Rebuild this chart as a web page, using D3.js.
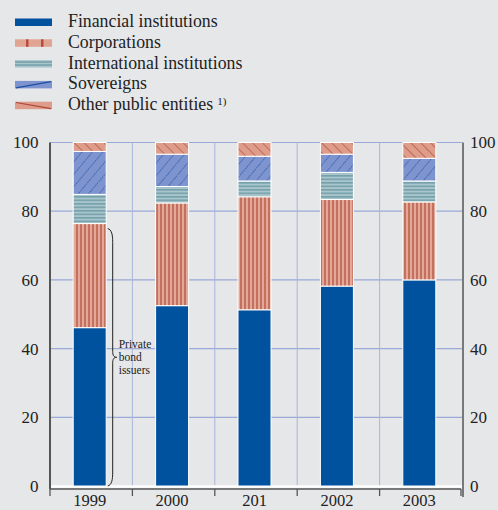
<!DOCTYPE html>
<html><head><meta charset="utf-8">
<script src="https://cdn.jsdelivr.net/npm/d3@7"></script>
<style>
html,body{margin:0;padding:0;background:#e6e7e9;}
svg{display:block;font-family:"Liberation Serif","Times New Roman",serif;}
</style></head>
<body><svg id="c" width="498" height="510"></svg>
<script>
const years = ["1999","2000","201","2002","2003"];
const seriesNames = ["Financial institutions","Corporations","International institutions","Sovereigns","Other public entities"];
const financial = [46.1, 52.5, 51.3, 58.2, 60.0];
const corporations = [30.3, 29.9, 32.9, 25.2, 22.7];
const international = [8.5, 4.8, 4.6, 7.9, 6.1];
const sovereigns = [12.5, 9.4, 7.2, 5.3, 6.6];
const otherPublic = [2.6, 3.4, 4.0, 3.4, 4.6];
const yTicks = [0, 20, 40, 60, 80, 100];

const svg = d3.select("#c");
const W = 498, H = 510;
const m = {left: 50, right: 462, top: 142.5, bottom: 486};
svg.append("rect").attr("width", W).attr("height", H).attr("fill", "#e6e7e9");

const defs = svg.append("defs");
let p = defs.append("pattern").attr("id","pCorp").attr("patternUnits","userSpaceOnUse").attr("width",4).attr("height",4);
p.append("rect").attr("width",4).attr("height",4).attr("fill","#e3a898");
p.append("rect").attr("x",0).attr("width",2).attr("height",4).attr("fill","#c4705f");
p = defs.append("pattern").attr("id","pIntl").attr("patternUnits","userSpaceOnUse").attr("width",4).attr("height",3.5);
p.append("rect").attr("width",4).attr("height",3.5).attr("fill","#a9c6cc");
p.append("rect").attr("y",0).attr("width",4).attr("height",1.6).attr("fill","#75a0aa");
p = defs.append("pattern").attr("id","pSov").attr("patternUnits","userSpaceOnUse").attr("width",8).attr("height",8).attr("patternTransform","rotate(40)");
p.append("rect").attr("width",8).attr("height",8).attr("fill","#7e94cf");
p.append("line").attr("x1",0).attr("y1",0).attr("x2",0).attr("y2",8).attr("stroke","#1d4fa2").attr("stroke-width",1.4).attr("stroke-dasharray","1.5,1");
p = defs.append("pattern").attr("id","pOther").attr("patternUnits","userSpaceOnUse").attr("width",7).attr("height",7).attr("patternTransform","rotate(-45)");
p.append("rect").attr("width",7).attr("height",7).attr("fill","#dd9d8a");
p.append("line").attr("x1",0).attr("y1",0).attr("x2",0).attr("y2",7).attr("stroke","#b04535").attr("stroke-width",1.2);

const fills = ["#00519e","url(#pCorp)","url(#pIntl)","url(#pSov)","url(#pOther)"];

const x = d3.scaleBand().domain(years).range([m.left, m.right]).paddingInner(0).paddingOuter(0);
const y = d3.scaleLinear().domain([0,100]).range([m.bottom, m.top]);
const barW = 33;

const grid = svg.append("g");
grid.selectAll("line.h").data(yTicks.filter(d=>d>0)).join("line")
  .attr("x1", m.left).attr("x2", m.right).attr("y1", d=>y(d)).attr("y2", d=>y(d))
  .attr("stroke","#9aa9d8").attr("stroke-width",1.2);
grid.selectAll("line.v").data(years.slice(1)).join("line")
  .attr("x1", d=>x(d)).attr("x2", d=>x(d)).attr("y1", m.top).attr("y2", m.bottom)
  .attr("stroke","#a9b4dc").attr("stroke-width",1);
svg.append("line").attr("x1", m.left).attr("x2", m.right).attr("y1", y(0)+0.5).attr("y2", y(0)+0.5)
  .attr("stroke","#ffffff").attr("stroke-width",2.5);

const rows = years.map((yr,i)=>({year:yr, s0:financial[i], s1:corporations[i], s2:international[i], s3:sovereigns[i], s4:otherPublic[i]}));
const stack = d3.stack().keys(["s0","s1","s2","s3","s4"])(rows);
const bars = svg.append("g");
stack.forEach((layer, k)=>{
  bars.selectAll(null).data(layer).join("rect")
    .attr("x", d=>x(d.data.year) + x.bandwidth()/2 - barW/2 - 1.5)
    .attr("width", barW)
    .attr("y", d=>y(d[1]))
    .attr("height", d=>y(d[0]) - y(d[1]))
    .attr("fill", fills[k])
    .attr("stroke","#ffffff").attr("stroke-width",1);
});

const axisColor = "#555";
svg.append("line").attr("x1", m.left).attr("x2", m.left).attr("y1", m.top).attr("y2", 489)
  .attr("stroke", axisColor).attr("stroke-width",2);
svg.append("line").attr("x1", m.right+1).attr("x2", m.right+1).attr("y1", m.top).attr("y2", 497)
  .attr("stroke", axisColor).attr("stroke-width",1.5);
svg.append("line").attr("x1", m.left).attr("x2", m.right-1).attr("y1", 489).attr("y2", 489)
  .attr("stroke", axisColor).attr("stroke-width",1.3);
const boundaries = years.map(d=>x(d)).concat([m.right-1]);
svg.selectAll("line.xt").data(boundaries).join("line")
  .attr("x1", d=>d).attr("x2", d=>d).attr("y1", 489).attr("y2", 496)
  .attr("stroke", axisColor).attr("stroke-width",1.3);

const txt = "#222";
svg.selectAll("text.xl").data(years).join("text")
  .attr("x", d=>x(d)+x.bandwidth()/2 - 1.5).attr("y", 506)
  .attr("text-anchor","middle").attr("font-size",16.5).attr("fill",txt).text(d=>d);

svg.selectAll("text.yl").data(yTicks).join("text")
  .attr("x", 38.5).attr("y", d=>y(d)).attr("dy","0.35em")
  .attr("text-anchor","end").attr("font-size",17).attr("fill",txt).text(d=>d);
svg.selectAll("text.yr").data(yTicks).join("text")
  .attr("x", 470).attr("y", d=>y(d)).attr("dy","0.35em")
  .attr("text-anchor","start").attr("font-size",17).attr("fill",txt).text(d=>d);

const braceTop = y(financial[0] + corporations[0]) + 5, braceBot = y(0);
const bx = x(years[0]) + x.bandwidth()/2 + barW/2;
const mid = (braceTop + braceBot)/2;
const bpath = `M${bx},${braceTop} C${bx+4},${braceTop+1} ${bx+5},${braceTop+6} ${bx+5},${braceTop+14}
 L${bx+5},${mid-6} C${bx+5},${mid-2} ${bx+6},${mid} ${bx+9},${mid}
 C${bx+6},${mid} ${bx+5},${mid+2} ${bx+5},${mid+6}
 L${bx+5},${braceBot-14} C${bx+5},${braceBot-6} ${bx+4},${braceBot-1} ${bx},${braceBot}`;
svg.append("path").attr("d", bpath).attr("fill","none").attr("stroke","#222").attr("stroke-width",1);
const ann = ["Private","bond","issuers"];
svg.selectAll("text.ann").data(ann).join("text")
  .attr("x", bx+11).attr("y",(d,i)=>mid - 9 + i*13)
  .attr("font-size",11.5).attr("fill",txt).text(d=>d);

const lg = svg.append("g");
const ly0 = 18.5, lstep = 20.8, lx = 15, lw = 37, lh = 7.5;
seriesNames.forEach((name,i)=>{
  const yy = ly0 + i*lstep;
  const g = lg.append("g");
  if (i===0) {
    g.append("rect").attr("x",lx).attr("y",yy).attr("width",lw).attr("height",lh).attr("fill","#00519e");
  } else if (i===1) {
    g.append("rect").attr("x",lx).attr("y",yy).attr("width",lw).attr("height",lh).attr("fill","#e0a493");
    [lx+11, lx+26].forEach(xx=>g.append("rect").attr("x",xx).attr("y",yy).attr("width",2.5).attr("height",lh).attr("fill","#b94a3e"));
  } else if (i===2) {
    g.append("rect").attr("x",lx).attr("y",yy).attr("width",lw).attr("height",lh).attr("fill","#a9c6cc");
    [1.2,4.2].forEach(o=>g.append("rect").attr("x",lx).attr("y",yy+o).attr("width",lw).attr("height",1.5).attr("fill","#75a0aa"));
  } else if (i===3) {
    g.append("rect").attr("x",lx).attr("y",yy).attr("width",lw).attr("height",lh).attr("fill","#7e94cf");
    g.append("line").attr("x1",lx+1).attr("y1",yy+lh-0.5).attr("x2",lx+lw-1).attr("y2",yy+0.8).attr("stroke","#1d4fa2").attr("stroke-width",1.2);
  } else {
    g.append("rect").attr("x",lx).attr("y",yy).attr("width",lw).attr("height",lh).attr("fill","#dd9d8a");
    g.append("line").attr("x1",lx+1).attr("y1",yy+0.8).attr("x2",lx+lw-1).attr("y2",yy+lh-0.5).attr("stroke","#b04535").attr("stroke-width",1.2);
  }
  const t = g.append("text").attr("x",68).attr("y",yy+lh+1).attr("font-size",17.8).attr("fill",txt).text(name);
  if (i===4) t.append("tspan").attr("dx",4).attr("dy",-5).attr("font-size",11).text("1)");
});
</script></body></html>
